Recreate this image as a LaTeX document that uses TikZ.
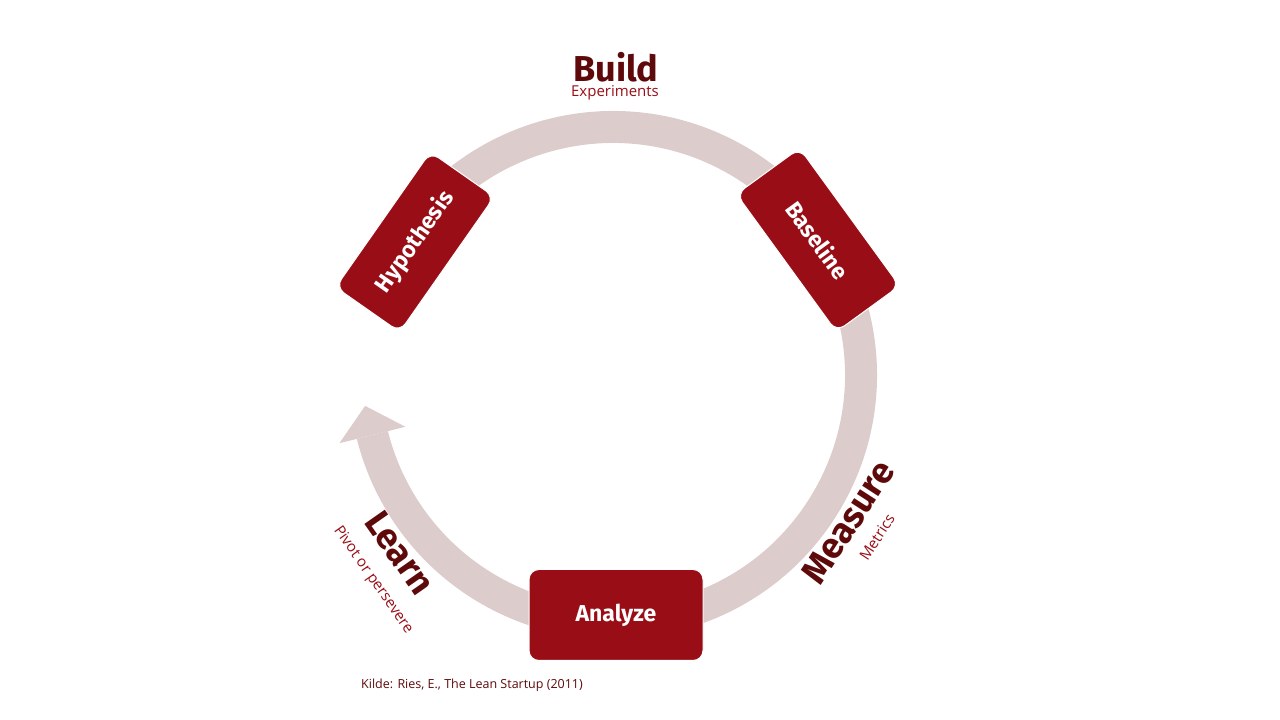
\documentclass[tikz,border=0pt]{standalone}
\usepackage{fontspec}
\usetikzlibrary{calc}
\setmainfont{Open Sans}
\newfontfamily\headfont{Fira Sans}
\definecolor{leanred}{RGB}{153,14,22}
\definecolor{leandark}{RGB}{94,10,10}
\definecolor{leanpink}{RGB}{221,204,204}
\begin{document}
\begin{tikzpicture}[x=1pt,y=1pt,
stepbox/.style={fill=leanred, draw=white, line width=1pt, rounded corners=10pt, text=white, align=center, font=\headfont\bfseries\fontsize{23}{25}\selectfont},
phase/.style={text=leandark, font=\headfont\bfseries\fontsize{36}{38}\selectfont, inner sep=0pt},
sub/.style={text=leanred, font=\fontsize{15}{17}\selectfont, inner sep=0pt}]
    \useasboundingbox (0,0) rectangle (1280,720);
    \coordinate (c) at (613,345);
    % cycle
    \draw[leanpink, line width=32pt] (c) ++(150:248) arc (150:-166:248);
    \fill[leanpink] ($(c)+(-166:282)$) -- ($(c)+(-166:248)+(104:30)$) coordinate (tip) -- ($(c)+(-166:214)$) -- cycle;
    % steps
    \node[stepbox, minimum width=165pt, minimum height=78pt, rotate=55] (hyp) at (415,478) {Hypothesis};
    \node[stepbox, minimum width=170pt, minimum height=78pt, rotate=-54] (base) at (818,480) {Baseline};
    \node[stepbox, minimum width=174pt, minimum height=91pt] (ana) at (616,105) {Analyze};
    % phases
    \node[phase] (build) at (616,653) {Build};
    \node[sub] (exp) at (615,627) {Experiments};
    \node[phase, rotate=57] (meas) at (848,198) {Measure};
    \node[sub, rotate=57] (met) at (877,183) {Metrics};
    \node[phase, rotate=-55] (learn) at (400,167) {Learn};
    \node[sub, rotate=-55] (piv) at (373,140) {Pivot or persevere};
    \node[text=leandark, font=\fontsize{12.5}{14}\selectfont] (src) at (472,35) {Kilde: Ries, E., The Lean Startup (2011)};
\end{tikzpicture}
\end{document}
